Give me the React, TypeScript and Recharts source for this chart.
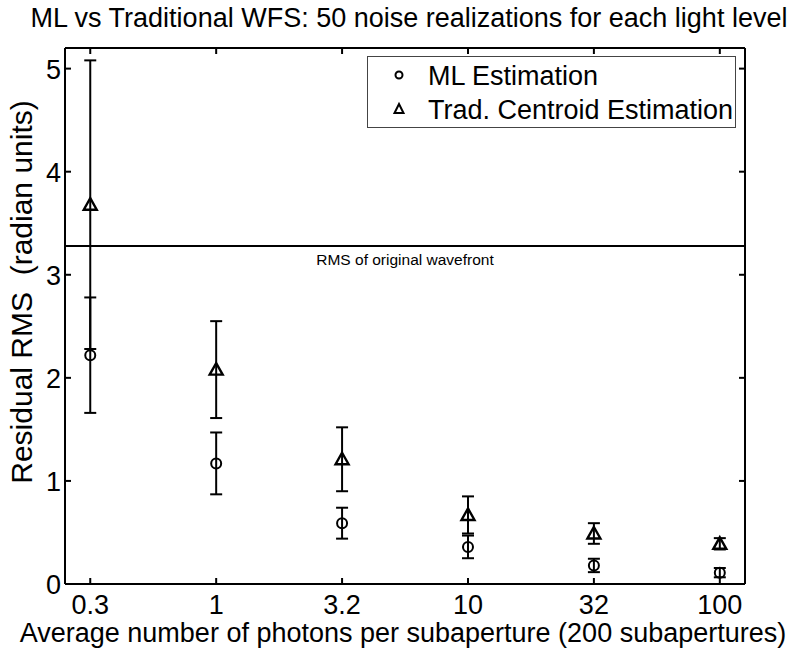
import React from 'react';
import { ScatterChart, Scatter, XAxis, YAxis, ErrorBar, ReferenceLine, Legend, Label } from 'recharts';

const photons = [0.3162, 1, 3.162, 10, 31.62, 100];
const photonLabels = ['0.3', '1', '3.2', '10', '32', '100'];
const mlMean = [2.22, 1.17, 0.59, 0.36, 0.18, 0.11];
const mlErr = [0.56, 0.3, 0.15, 0.11, 0.065, 0.045];
const tradMean = [3.68, 2.08, 1.21, 0.67, 0.49, 0.39];
const tradErr = [1.4, 0.47, 0.31, 0.18, 0.1, 0.055];
const yTicks = [0, 1, 2, 3, 4, 5];
const rmsOriginal = 3.28;

const seriesNames = ['ML Estimation', 'Trad. Centroid Estimation'];
const titleText = 'ML vs Traditional WFS: 50 noise realizations for each light level';
const xLabelText = 'Average number of photons per subaperture (200 subapertures)';
const yLabelText = 'Residual RMS  (radian units)';
const refLabelText = 'RMS of original wavefront';

const FONT = '"Liberation Sans", Arial, Helvetica, sans-serif';
const TICK_LEN = 6;
const CHART_W = 799;
const CHART_H = 654;
const MARGIN = { top: 47, right: 53, bottom: 30, left: 25 };
const RIGHT_AXIS_W = 1;
const PLOT_RIGHT = CHART_W - MARGIN.right - RIGHT_AXIS_W;

const mlData = photons.map((p, i) => ({ x: p, y: mlMean[i], err: mlErr[i] }));
const tradData = photons.map((p, i) => ({ x: p, y: tradMean[i], err: tradErr[i] }));

const fmtX = (v: number) => {
  const idx = photons.findIndex((p) => Math.abs(p - v) / p < 1e-6);
  return idx >= 0 ? photonLabels[idx] : String(v);
};

const BottomTick = (p: any) => (
  <g>
    <line x1={p.x} y1={p.y} x2={p.x} y2={p.y - TICK_LEN} stroke="#000" strokeWidth={2} />
    <text x={p.x} y={p.y + 30} textAnchor="middle" fontSize={27} fontFamily={FONT} fill="#000">
      {fmtX(p.payload.value)}
    </text>
  </g>
);
const LeftTick = (p: any) => {
  const x = Number(p.x);
  const y = Number(p.y);
  return (
    <g>
      <path d={`M${x},${y}h${TICK_LEN}`} stroke="#000" strokeWidth={2} fill="none" />
      <path d={`M${PLOT_RIGHT},${y}h${-TICK_LEN}`} stroke="#000" strokeWidth={2} fill="none" />
      <text x={x - 4} y={y + 10} textAnchor="end" fontSize={27} fontFamily={FONT} fill="#000">
        {p.payload.value}
      </text>
    </g>
  );
};
const TopTick = (p: any) => (
  <line x1={p.x} y1={p.y} x2={p.x} y2={p.y + TICK_LEN} stroke="#000" strokeWidth={2} />
);

const CircleShape = (p: any) => (
  <circle cx={p.cx} cy={p.cy} r={5} fill="none" stroke="#000" strokeWidth={2} />
);
const TriShape = (p: any) => (
  <polygon
    points={`${p.cx},${p.cy - 6.5} ${p.cx + 6.5},${p.cy + 5} ${p.cx - 6.5},${p.cy + 5}`}
    fill="none"
    stroke="#000"
    strokeWidth={2.4}
    strokeLinejoin="miter"
  />
);

const renderLegend = () => (
  <svg width={370} height={73} style={{ display: 'block', overflow: 'hidden' }}>
    <rect x={0.5} y={0.5} width={368} height={71} fill="#fff" stroke="#444" strokeWidth={1} />
    <circle cx={32} cy={19} r={3.5} fill="none" stroke="#000" strokeWidth={2} />
    <text x={61} y={29} fontSize={27} fontFamily={FONT} fill="#000">{seriesNames[0]}</text>
    <polygon points="32,48 36.5,57 27.5,57" fill="none" stroke="#000" strokeWidth={2} />
    <text x={61} y={63} fontSize={27} fontFamily={FONT} fill="#000">{seriesNames[1]}</text>
  </svg>
);

export default function App() {
  return (
    <div style={{ position: 'absolute', left: 0, top: 0, background: '#fff' }}>
      <ScatterChart width={CHART_W} height={CHART_H} margin={MARGIN}>
        <XAxis
          xAxisId="b"
          dataKey="x"
          type="number"
          scale="log"
          domain={[0.251, 125.9]}
          allowDataOverflow
          ticks={photons}
          interval={0}
          height={40}
          tickSize={0}
          tickMargin={0}
          tickLine={false}
          stroke="#000"
          strokeWidth={2}
          tick={BottomTick}
        >
          <Label
            content={(props: any) => {
              const vb = props.viewBox || {};
              return (
                <text x={vb.x + vb.width / 2 - 2} y={642} textAnchor="middle" fontSize={27} fontFamily={FONT} fill="#000">
                  {xLabelText}
                </text>
              );
            }}
          />
        </XAxis>
        <XAxis
          xAxisId="t"
          orientation="top"
          dataKey="x"
          type="number"
          scale="log"
          domain={[0.251, 125.9]}
          allowDataOverflow
          ticks={photons}
          interval={0}
          height={1}
          tickSize={0}
          tickMargin={0}
          tickLine={false}
          tick={TopTick}
          stroke="#000"
          strokeWidth={2}
        >
          <Label
            content={(props: any) => {
              const vb = props.viewBox || {};
              return (
                <text x={vb.x + vb.width / 2 + 4} y={27} textAnchor="middle" fontSize={27} fontFamily={FONT} fill="#000">
                  {titleText}
                </text>
              );
            }}
          />
        </XAxis>
        <YAxis
          yAxisId="l"
          type="number"
          domain={[0, 5.2]}
          ticks={yTicks}
          interval={0}
          width={40}
          tickSize={0}
          tickMargin={0}
          tickLine={false}
          stroke="#000"
          strokeWidth={2}
          tick={LeftTick}
        >
          <Label
            content={() => {
              const cx = 32;
              const cy = 292;
              return (
                <text
                  x={cx}
                  y={cy}
                  transform={`rotate(-90 ${cx} ${cy})`}
                  textAnchor="middle"
                  fontSize={30}
                  fontFamily={FONT}
                  fill="#000"
                  style={{ whiteSpace: 'pre' }}
                >
                  {yLabelText}
                </text>
              );
            }}
          />
        </YAxis>
        <YAxis
          yAxisId="r"
          orientation="right"
          type="number"
          domain={[0, 5.2]}
          ticks={yTicks}
          interval={0}
          width={RIGHT_AXIS_W}
          tickLine={false}
          tick={false}
          stroke="#000"
          strokeWidth={2}
        />
        <ReferenceLine
          xAxisId="b"
          yAxisId="l"
          y={rmsOriginal}
          stroke="#000"
          strokeWidth={2}
          label={{ value: refLabelText, position: 'bottom', offset: 8, fontSize: 15.5, fill: '#000', fontFamily: FONT }}
        />
        <Scatter
          name={seriesNames[0]}
          data={mlData}
          xAxisId="b"
          yAxisId="l"
          dataKey="y"
          shape={CircleShape}
          isAnimationActive={false}
        >
          <ErrorBar dataKey="err" direction="y" width={6} stroke="#000" strokeWidth={2} />
        </Scatter>
        <Scatter
          name={seriesNames[1]}
          data={tradData}
          xAxisId="b"
          yAxisId="l"
          dataKey="y"
          shape={TriShape}
          isAnimationActive={false}
        >
          <ErrorBar dataKey="err" direction="y" width={6} stroke="#000" strokeWidth={2} />
        </Scatter>
        <Legend
          layout="vertical"
          align="center"
          verticalAlign="middle"
          content={renderLegend}
          wrapperStyle={{ position: 'absolute', left: 367, top: 56, width: 370, height: 73 }}
        />
      </ScatterChart>
    </div>
  );
}
